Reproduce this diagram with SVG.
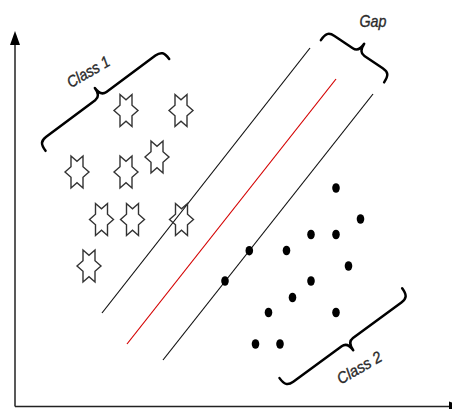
<svg xmlns="http://www.w3.org/2000/svg" width="452" height="409" viewBox="0 0 452 409">
<style>
.axis{stroke:#222;stroke-width:1.5;fill:none}
.sep{stroke:#111;stroke-width:1.2;fill:none}
.mid{stroke:#d40000;stroke-width:1.2;fill:none}
.brace{stroke:#000;stroke-width:2.5;fill:none;stroke-linecap:round;stroke-linejoin:round}
.star{fill:none;stroke:#333;stroke-width:1.4;stroke-linejoin:miter}
.dot{fill:#000}
.lbl{font-family:"Liberation Sans",Arial,sans-serif;font-style:italic;fill:#2a2a2a;stroke:#2a2a2a;stroke-width:0.35;text-anchor:middle}
</style>
<defs>
<path id="star" d="M12,0 L6,5.3 L6,16 L0,10.7 L-6,16 L-6,5.3 L-12,0 L-6,-5.3 L-6,-16 L0,-10.7 L6,-16 L6,-5.3 Z"/>
<ellipse id="dot" rx="3.8" ry="4.8"/>
</defs>
<rect width="452" height="409" fill="#fff"/>
<g id="axes">
<line class="axis" x1="15" y1="406.5" x2="15" y2="44"/>
<polygon points="15,31 10,45 20,45" fill="#000"/>
<line class="axis" x1="15" y1="406.5" x2="452" y2="406.5"/>
<polygon points="463,406.5 449,401.5 449,411.5" fill="#000"/>
</g>
<g id="connectors">
<line class="sep" x1="102" y1="313" x2="310" y2="48"/>
<line class="mid" x1="127" y1="344" x2="336" y2="79"/>
<line class="sep" x1="163" y1="360" x2="373" y2="94"/>
</g>
<g id="class1">
<use href="#star" class="star" x="126" y="110.5"/>
<use href="#star" class="star" x="181" y="110.5"/>
<use href="#star" class="star" x="77" y="172"/>
<use href="#star" class="star" x="126" y="172"/>
<use href="#star" class="star" x="157" y="157"/>
<use href="#star" class="star" x="101.5" y="219.5"/>
<use href="#star" class="star" x="132.5" y="219.5"/>
<use href="#star" class="star" x="181.5" y="219.5"/>
<use href="#star" class="star" x="89" y="266"/>
</g>
<g id="class2">
<use href="#dot" class="dot" x="336" y="188"/>
<use href="#dot" class="dot" x="360.5" y="219"/>
<use href="#dot" class="dot" x="311" y="234.5"/>
<use href="#dot" class="dot" x="336" y="234.5"/>
<use href="#dot" class="dot" x="286.5" y="250.5"/>
<use href="#dot" class="dot" x="249.3" y="250.7"/>
<use href="#dot" class="dot" x="225" y="281"/>
<use href="#dot" class="dot" x="348.5" y="266"/>
<use href="#dot" class="dot" x="311" y="281"/>
<use href="#dot" class="dot" x="292.5" y="297.5"/>
<use href="#dot" class="dot" x="268.5" y="312.5"/>
<use href="#dot" class="dot" x="336" y="312.5"/>
<use href="#dot" class="dot" x="255.5" y="344"/>
<use href="#dot" class="dot" x="280" y="344"/>
</g>
<g id="brace-class1">
<path class="brace" transform="translate(39,142) rotate(-36.6)" d="M0,11 C0,3 2,0 9,0 L70,0 C75,0 77,-3 77,-10 C77,-3 79,0 84,0 L145,0 C152,0 154,3 154,11"/>
<text class="lbl" font-size="16" transform="translate(91,76.5) rotate(-30)" textLength="47" lengthAdjust="spacingAndGlyphs">Class 1</text>
</g>
<g id="brace-gap">
<path class="brace" transform="translate(327,31) rotate(33.7)" d="M0,11 C0,3 2,0 9,0 L31,0 C36,0 38,-3 38,-10 C38,-3 40,0 45,0 L67,0 C74,0 76,3 76,11"/>
<text class="lbl" font-size="17" x="373" y="26.5" textLength="27" lengthAdjust="spacingAndGlyphs">Gap</text>
</g>
<g id="brace-class2">
<path class="brace" transform="translate(286,387) rotate(-36.2)" d="M0,-11 C0,-3 2,0 9,0 L69,0 C74,0 76,3 76,10 C76,3 78,0 83,0 L143,0 C150,0 152,-3 152,-11"/>
<text class="lbl" font-size="16" transform="translate(362,372.5) rotate(-30)" textLength="49" lengthAdjust="spacingAndGlyphs">Class 2</text>
</g>
</svg>
